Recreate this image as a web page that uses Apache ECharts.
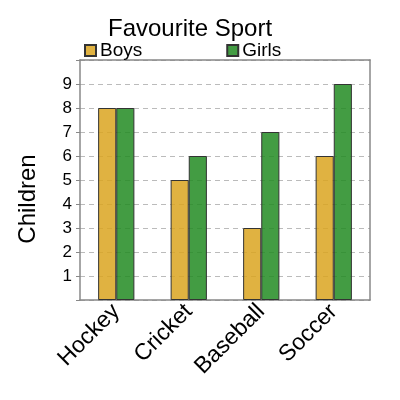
<!DOCTYPE html>
<html><head><meta charset="utf-8">
<script src="https://cdn.jsdelivr.net/npm/echarts@6/dist/echarts.min.js"></script>
<style>html,body{margin:0;padding:0;background:#fff}#c{width:400px;height:400px}</style>
</head><body><div id="c"></div>
<script>
const categories = ['Hockey', 'Cricket', 'Baseball', 'Soccer'];
const boys = [8, 5, 3, 6];
const girls = [8, 6, 7, 9];
const chart = echarts.init(document.getElementById('c'), null, {renderer: 'canvas'});
const font = 'Liberation Sans, Arial, sans-serif';
chart.setOption({
  animation: false,
  backgroundColor: '#fff',
  title: {text: 'Favourite Sport', left: 103, top: 12, textStyle: {fontFamily: font, fontSize: 24, fontWeight: 'normal', color: '#000'}},
  legend: {
    left: 79, top: 36, itemWidth: 11, itemHeight: 11, itemGap: 84,
    textStyle: {fontFamily: font, fontSize: 19, color: '#000', padding: [0, 0, 0, -1]},
    data: [{name: 'Boys', icon: 'rect'}, {name: 'Girls', icon: 'rect'}]
  },
  grid: {left: 80, right: 30, top: 60, bottom: 100, containLabel: false},
  xAxis: [{
    type: 'category', data: categories,
    axisLine: {show: true, lineStyle: {color: '#888', width: 1.5}},
    axisTick: {show: false},
    axisLabel: {rotate: 45, fontFamily: font, fontSize: 23, color: '#000', margin: 8}
  }, {
    type: 'category', data: categories, position: 'top',
    axisLine: {show: true, onZero: false, lineStyle: {color: '#888', width: 1.5}},
    axisTick: {show: false}, axisLabel: {show: false}
  }],
  yAxis: [{
    type: 'value', min: 0, max: 10, interval: 1,
    name: 'Children', nameLocation: 'middle', nameGap: 40, nameRotate: 90,
    nameTextStyle: {fontFamily: font, fontSize: 24, color: '#000', padding: [0, 38, 0, 0]},
    axisLine: {show: true, lineStyle: {color: '#888', width: 1.5}},
    axisTick: {show: true, length: 4, lineStyle: {color: '#888'}},
    axisLabel: {fontFamily: font, fontSize: 17, color: '#000', margin: 8,
      formatter: v => (v === 0 || v === 10) ? '' : String(v)},
    splitLine: {show: true, lineStyle: {color: '#bbb', type: [5, 4], width: 1.2}}
  }, {
    type: 'value', min: 0, max: 10, interval: 1, position: 'right',
    axisLine: {show: true, onZero: false, lineStyle: {color: '#888', width: 1.5}},
    axisTick: {show: false}, axisLabel: {show: false}, splitLine: {show: false}
  }],
  series: [{
    name: 'Boys', type: 'bar', data: boys, barGap: '0%', barCategoryGap: '50%',
    itemStyle: {color: 'rgba(218,165,32,0.85)', borderColor: '#333', borderWidth: 1}
  }, {
    name: 'Girls', type: 'bar', data: girls,
    itemStyle: {color: 'rgba(34,139,34,0.85)', borderColor: '#333', borderWidth: 1}
  }],
  color: ['#DAA520', '#228B22']
});
</script></body></html>
